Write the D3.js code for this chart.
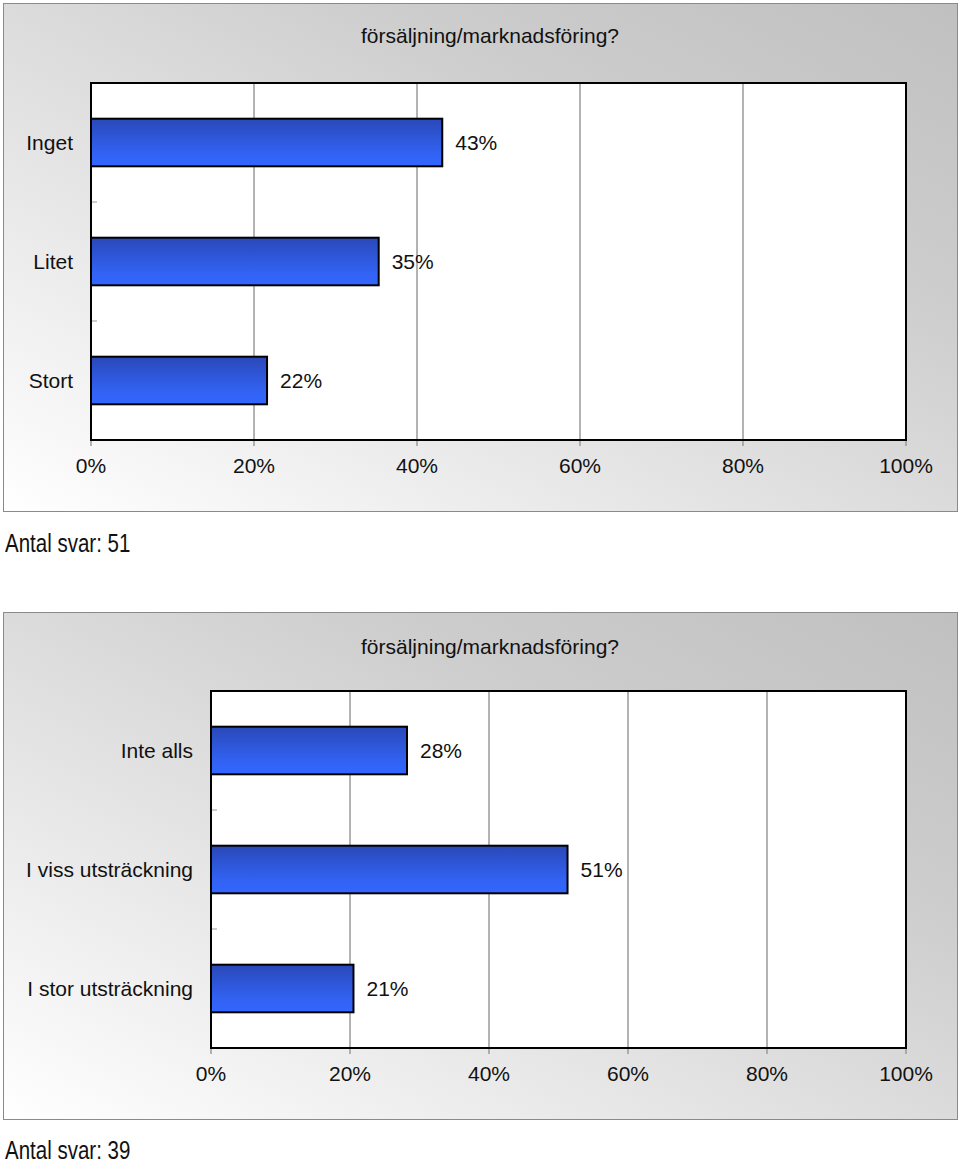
<!DOCTYPE html>
<html><head><meta charset="utf-8">
<script src="https://cdn.jsdelivr.net/npm/d3@7"></script>
<style>
html,body{margin:0;padding:0;background:#fff;}
svg{display:block;}
text{font-family:"Liberation Sans",Arial,Helvetica,sans-serif;fill:#111;}
</style></head>
<body>
<svg id="chart" width="960" height="1163"></svg>
<script>
// ---- data ----
const title1 = "försäljning/marknadsföring?";
const categories1 = ["Inget", "Litet", "Stort"];
const values1 = [43.1, 35.3, 21.6];
const count1 = "Antal svar: 51";

const title2 = "försäljning/marknadsföring?";
const categories2 = ["Inte alls", "I viss utsträckning", "I stor utsträckning"];
const values2 = [28.2, 51.3, 20.5];
const count2 = "Antal svar: 39";

const tickValues = [0, 20, 40, 60, 80, 100];
const tickLabels = ["0%", "20%", "40%", "60%", "80%", "100%"];

// ---- drawing ----
const svg = d3.select("#chart");
const defs = svg.append("defs");
const bg = defs.append("linearGradient").attr("id","bgGrad")
  .attr("x1","0").attr("y1","1").attr("x2","1").attr("y2","0");
bg.append("stop").attr("offset","0").attr("stop-color","#ffffff");
bg.append("stop").attr("offset","0.7").attr("stop-color","#cdcdcd");
bg.append("stop").attr("offset","1").attr("stop-color","#c0c0c0");
const barG = defs.append("linearGradient").attr("id","barGrad")
  .attr("x1","0").attr("y1","0").attr("x2","0").attr("y2","1");
barG.append("stop").attr("offset","0").attr("stop-color","#2a48b8");
barG.append("stop").attr("offset","0.75").attr("stop-color","#3263f5");
barG.append("stop").attr("offset","1").attr("stop-color","#3366ff");

const FS = 21;

function drawChart(cfg){
  const g = svg.append("g");
  // panel
  g.append("rect").attr("x",cfg.px+0.5).attr("y",cfg.py+0.5)
    .attr("width",cfg.pw).attr("height",cfg.ph)
    .attr("fill","url(#bgGrad)").attr("stroke","#8a8a8a").attr("stroke-width",1);
  // title
  g.append("text").attr("x",490).attr("y",cfg.titleY)
    .attr("text-anchor","middle").attr("font-size",FS).text(cfg.title);

  const x = d3.scaleLinear().domain([0,100]).range([cfg.x0, cfg.x1]);
  const y = d3.scaleBand().domain(cfg.categories).range([cfg.y0, cfg.y1]).paddingInner(0.6).paddingOuter(0.3);
  const yb = d3.scaleBand().domain(cfg.categories).range([cfg.y0, cfg.y1]);

  // plot background
  g.append("rect").attr("x",cfg.x0).attr("y",cfg.y0)
    .attr("width",cfg.x1-cfg.x0).attr("height",cfg.y1-cfg.y0).attr("fill","#fff");
  // grid lines
  g.selectAll(".grid").data(tickValues.slice(1,-1)).join("line")
    .attr("x1",d=>x(d)).attr("x2",d=>x(d)).attr("y1",cfg.y0).attr("y2",cfg.y1)
    .attr("stroke","#9a9a9a").attr("stroke-width",1.5);
  // bottom ticks
  g.selectAll(".btick").data(tickValues).join("line")
    .attr("x1",d=>x(d)).attr("x2",d=>x(d)).attr("y1",cfg.y1).attr("y2",cfg.y1+6)
    .attr("stroke","#9a9a9a").attr("stroke-width",1.5);
  // category separator ticks
  g.selectAll(".ctick").data(cfg.categories.slice(1)).join("line")
    .attr("x1",cfg.x0).attr("x2",cfg.x0+6)
    .attr("y1",d=>yb(d)).attr("y2",d=>yb(d))
    .attr("stroke","#9a9a9a").attr("stroke-width",1);
  // bars
  g.selectAll(".bar").data(cfg.values).join("rect")
    .attr("x",x(0)).attr("y",(d,i)=>y(cfg.categories[i]))
    .attr("width",d=>x(d)-x(0)).attr("height",y.bandwidth())
    .attr("fill","url(#barGrad)").attr("stroke","#000").attr("stroke-width",2);
  // plot border
  g.append("rect").attr("x",cfg.x0).attr("y",cfg.y0)
    .attr("width",cfg.x1-cfg.x0).attr("height",cfg.y1-cfg.y0)
    .attr("fill","none").attr("stroke","#000").attr("stroke-width",2);
  // value labels
  g.selectAll(".vl").data(cfg.values).join("text")
    .attr("x",d=>x(d)+13).attr("y",(d,i)=>y(cfg.categories[i])+y.bandwidth()/2)
    .attr("dy","0.35em").attr("font-size",FS).text(d=>Math.round(d)+"%");
  // category labels
  g.selectAll(".cl").data(cfg.categories).join("text")
    .attr("x",cfg.x0-18).attr("y",d=>y(d)+y.bandwidth()/2)
    .attr("dy","0.35em").attr("text-anchor","end").attr("font-size",FS).text(d=>d);
  // tick labels
  g.selectAll(".tl").data(tickValues).join("text")
    .attr("x",d=>x(d)).attr("y",cfg.y1+26).attr("dy","0.35em")
    .attr("text-anchor","middle").attr("font-size",FS).text((d,i)=>tickLabels[i]);
  // count (condensed)
  g.append("text").attr("transform",`translate(5,${cfg.countY}) scale(0.82,1)`)
    .attr("font-size",25).text(cfg.count);
}

drawChart({px:3,py:3,pw:954,ph:508,title:title1,titleY:43,
  categories:categories1,values:values1,x0:91,x1:906,y0:83,y1:440,count:count1,countY:552});
drawChart({px:3,py:612,pw:954,ph:507,title:title2,titleY:654,
  categories:categories2,values:values2,x0:211,x1:906,y0:691,y1:1048,count:count2,countY:1159});
</script>
</body></html>
